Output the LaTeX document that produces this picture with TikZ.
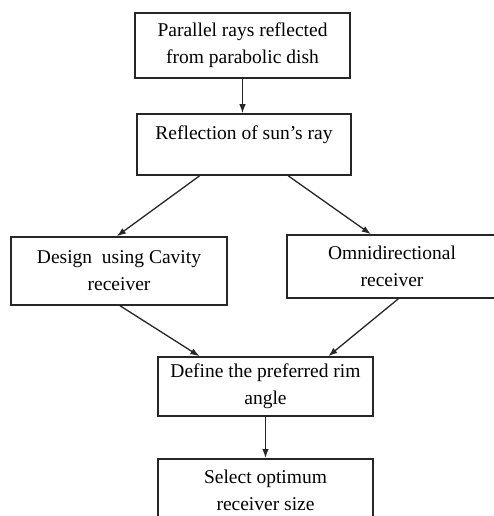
\documentclass[tikz,border=0pt]{standalone}
\usepackage{fontspec}
\setmainfont{Liberation Serif}
\usetikzlibrary{calc,arrows.meta}
\begin{document}
\begin{tikzpicture}[x=1pt,y=-1pt,
  box/.style={draw=black!85,line width=1.6pt,fill=white,align=center,inner sep=0pt,
    font=\fontsize{19.5}{27}\selectfont},
  conn/.style={draw=black!85,line width=1.3pt,-{Latex[length=9pt,width=6.5pt]}}]
\useasboundingbox (0,0) rectangle (494,516);
\clip (0,0) rectangle (494,516);
\fill[white] (0,0) rectangle (494,516);
\node[box,minimum width=215pt,minimum height=65pt] (b1) at (242.5,45.5) {Parallel rays reflected\\from parabolic dish};
\node[box,minimum width=214pt,minimum height=61pt] (b2) at (244,144.5) {Reflection of sun's ray\\[-4pt]~};
\node[box,minimum width=216pt,minimum height=68pt] (b3) at (119,271) {Design \ using Cavity\\receiver};
\node[box,minimum width=210pt,minimum height=63pt] (b4) at (392,266.5) {Omnidirectional\\receiver};
\node[box,minimum width=215pt,minimum height=59pt] (b5) at (265.5,386.5) {Define the preferred rim\\angle};
\node[box,minimum width=215pt,minimum height=63pt,anchor=north] (b6) at (265.5,458) {Select optimum\\receiver size};
\draw[conn] (b1.south) -- (b1.south |- b2.north);
\draw[conn] ($(b2.south west)!0.294!(b2.south east)$) -- ($(b3.north west)!0.49!(b3.north east)$);
\draw[conn] ($(b2.south west)!0.705!(b2.south east)$) -- ($(b4.north west)!0.40!(b4.north east)$);
\draw[conn] ($(b3.south west)!0.505!(b3.south east)$) -- ($(b5.north west)!0.195!(b5.north east)$);
\draw[conn] ($(b4.south west)!0.53!(b4.south east)$) -- ($(b5.north west)!0.79!(b5.north east)$);
\draw[conn] (b5.south) -- (b6.north);
\end{tikzpicture}
\end{document}
